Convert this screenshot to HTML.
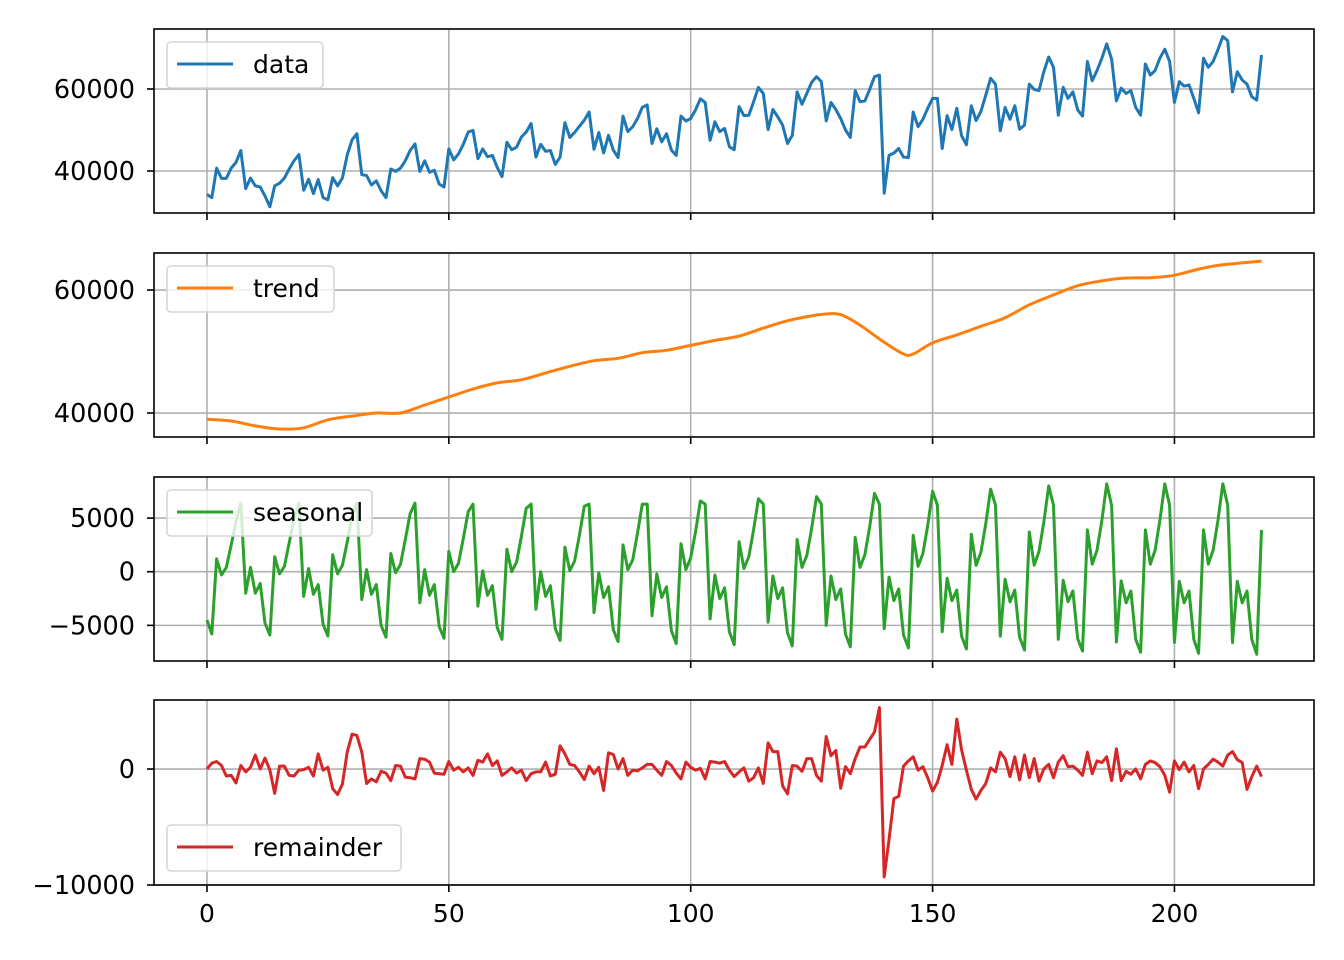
<!DOCTYPE html>
<html><head><meta charset="utf-8">
<style>
html,body{margin:0;padding:0;background:#fff;}
svg{display:block;font-family:"DejaVu Sans","Liberation Sans",sans-serif;}
</style></head>
<body>
<svg id="chart" width="1344" height="960" viewBox="0 0 1344 960" xmlns="http://www.w3.org/2000/svg"></svg>
<script>
const xTicks = [0, 50, 100, 150, 200];
const dataValues = [34300,33500,40700,38200,38200,40700,42100,45000,35700,38300,36400,36100,33900,31300,36400,37000,38300,40500,42500,44000,35300,38000,34500,37900,33500,33000,38400,36400,38300,44000,47600,49100,39100,38900,36600,37600,35200,33500,40500,39900,40700,42500,45000,46600,39900,42500,39700,40200,36800,36100,45400,42700,44200,46500,49500,49900,43000,45400,43500,43800,40900,38600,47000,45200,45800,48300,49500,51600,43400,46500,44800,45000,41600,43400,51800,48200,49400,50900,52400,54400,45300,49400,44400,48700,45100,43300,53400,49600,50800,52800,55500,56100,46700,50300,47100,49100,45100,43800,53400,52200,52800,54900,57600,56700,47500,52000,49600,50400,45900,45200,55700,53500,53600,56900,60400,58900,50100,55000,53200,51200,46700,48700,59300,56300,58900,61600,63000,61800,52200,56700,55000,52800,50000,48200,59600,56900,57100,59900,63000,63400,34600,43800,44400,45500,43400,43300,54400,50800,52600,55300,57700,57700,45500,53500,50100,55300,48600,46400,55900,52300,54500,58500,62600,61200,49800,55500,52600,55900,50200,51200,61200,59900,59600,64200,67800,65300,53600,60400,57700,59300,54900,53400,66700,62000,64500,67500,71000,67300,57100,60200,58900,59600,55500,53600,66100,63400,64500,67500,69700,66700,56700,61800,60700,61000,57700,54200,67500,65300,66700,69600,72800,71800,59300,64200,62200,61200,58100,57300,68300];
const trendX = [0,5,10,15,20,25,30,35,40,45,50,55,60,65,70,75,80,85,90,95,100,105,110,115,120,125,128,131,135,140,144,146,150,155,160,165,170,175,180,185,190,195,200,205,210,218];
const trendValues = [39000,38700,37900,37400,37600,38900,39500,40000,40000,41300,42600,43900,44900,45400,46500,47600,48500,48900,49800,50200,51000,51800,52500,53800,55000,55800,56100,56000,54300,51500,49600,49600,51400,52700,54100,55500,57600,59200,60700,61500,61950,62000,62400,63400,64100,64700];
const seasonalValues = [
-4500,-5800,1200,-300,400,2500,4700,6400,-2000,400,-2000,-1100,
-4800,-5900,1400,-200,500,2700,4900,6400,-2300,300,-2100,-1200,
-4900,-6000,1600,-200,600,2800,5200,6400,-2600,200,-2100,-1200,
-5000,-6100,1700,-100,700,3000,5400,6400,-2900,200,-2200,-1200,
-5100,-6200,1900,0,800,3100,5600,6300,-3200,100,-2200,-1300,
-5200,-6300,2100,0,900,3300,5900,6300,-3500,0,-2300,-1300,
-5300,-6400,2300,100,1000,3400,6100,6300,-3800,-100,-2400,-1400,
-5400,-6500,2500,200,1100,3600,6300,6300,-4100,-200,-2400,-1400,
-5500,-6700,2600,200,1300,3700,6600,6300,-4400,-300,-2500,-1500,
-5600,-6800,2800,300,1400,3900,6800,6300,-4700,-400,-2500,-1500,
-5700,-6900,3000,400,1500,4000,7000,6300,-5000,-400,-2600,-1600,
-5800,-7000,3200,400,1600,4200,7300,6300,-5300,-500,-2700,-1600,
-5900,-7100,3400,500,1700,4300,7500,6200,-5600,-600,-2700,-1700,
-6000,-7200,3500,600,1800,4500,7700,6200,-6000,-700,-2800,-1700,
-6100,-7300,3700,600,1900,4600,8000,6200,-6300,-800,-2800,-1800,
-6250,-7400,3900,700,2000,4800,8200,6200,-6550,-850,-2900,-1800,
-6300,-7500,3900,700,2000,4800,8200,6200,-6600,-900,-2900,-1800,
-6300,-7600,3900,700,2000,4800,8200,6200,-6600,-900,-2900,-1800,
-6300,-7700,3900];
const remainderValues = [0,500,650,300,-600,-550,-1200,300,-250,150,1200,0,950,-100,-2100,250,250,-550,-600,-100,-50,150,-600,1300,-100,150,-1700,-2200,-1300,1500,3000,2900,1450,-1250,-850,-1100,-200,-350,-1000,300,250,-700,-750,-850,900,850,600,-350,-400,-450,650,-100,150,-250,100,-550,750,600,1300,300,700,-550,-250,100,-350,-100,-1000,-400,-250,-250,600,-600,-450,2000,1300,400,300,-250,-900,250,-400,150,-1850,1400,1250,0,900,-550,-100,-150,100,400,400,-100,-550,650,300,-350,-850,600,150,-100,50,-850,650,600,500,650,-100,-650,-250,100,-1050,-750,100,-1250,2250,1500,1500,-1450,-2150,300,250,-200,900,900,-550,-1050,2800,1150,1600,-1650,200,-400,900,1900,1900,2550,3200,5300,-9300,-6100,-2550,-2350,250,700,1050,-100,200,-750,-1900,-1150,300,2100,400,4300,1650,-100,-1750,-2600,-1850,-1250,100,-250,1450,900,-650,1050,-950,1200,-750,900,-1050,0,400,-750,600,1150,200,250,-100,-550,1450,-400,700,550,1050,-1000,1750,-1000,-200,-450,0,-850,400,700,550,200,-550,-2000,700,-50,600,-250,300,-1700,0,400,850,600,250,1200,1500,800,550,-1750,-650,250,-650];
const yTicks1 = [40000, 60000];
const yTicks2 = [40000, 60000];
const yTicks3 = [-5000, 0, 5000];
const yTicks4 = [-10000, 0];

const NS = "http://www.w3.org/2000/svg";
const svg = document.getElementById('chart');
const L = 154, R = 1314;
function xs(v){ return L + (v - (-10.95)) / (228.85 - (-10.95)) * (R - L); }
function mk(tag, attrs, parent){
  const e = document.createElementNS(NS, tag);
  for (const k in attrs) e.setAttribute(k, attrs[k]);
  (parent || svg).appendChild(e);
  return e;
}
function fmt(v){ return v < 0 ? '\u2212' + Math.abs(v) : String(v); }

function smoothPath(pts){
  let d = 'M' + pts[0][0].toFixed(1) + ',' + pts[0][1].toFixed(1);
  for (let i = 0; i < pts.length - 1; i++) {
    const p0 = pts[i-1] || pts[i], p1 = pts[i], p2 = pts[i+1], p3 = pts[i+2] || p2;
    const c1x = p1[0] + (p2[0]-p0[0])/6, c1y = p1[1] + (p2[1]-p0[1])/6;
    const c2x = p2[0] - (p3[0]-p1[0])/6, c2y = p2[1] - (p3[1]-p1[1])/6;
    d += ' C' + c1x.toFixed(1) + ',' + c1y.toFixed(1) + ' ' + c2x.toFixed(1) + ',' + c2y.toFixed(1) + ' ' + p2[0].toFixed(1) + ',' + p2[1].toFixed(1);
  }
  return d;
}

const panels = [
  {name:'data', top:29, bot:213, ymin:29760, ymax:74630, ticks:yTicks1, xv:null, yv:dataValues, color:'#1f77b4', leg:{x:167,y:42,w:156}},
  {name:'trend', top:253, bot:437, ymin:36100, ymax:66020, ticks:yTicks2, xv:trendX, yv:trendValues, color:'#ff7f0e', leg:{x:167,y:266,w:167}},
  {name:'seasonal', top:477, bot:661, ymin:-8320, ymax:8830, ticks:yTicks3, xv:null, yv:seasonalValues, color:'#2ca02c', leg:{x:167,y:490,w:205}},
  {name:'remainder', top:700, bot:885, ymin:-10000, ymax:5950, ticks:yTicks4, xv:null, yv:remainderValues, color:'#d62728', leg:{x:167,y:825,w:234}}
];

panels.forEach((p, pi) => {
  const g = mk('g', {});
  
  
  const ys = v => p.bot - (v - p.ymin) / (p.ymax - p.ymin) * (p.bot - p.top);
  xTicks.forEach(t => {
    const gl = mk('line', {x1:xs(t), x2:xs(t), y1:p.top, y2:p.bot, stroke:'#b0b0b0', 'stroke-width':1.6}, g);
    
    
    const tk = mk('line', {x1:xs(t), x2:xs(t), y1:p.bot, y2:p.bot+7, stroke:'#000', 'stroke-width':1.6}, g);
    
    
    if (pi === 3) {
      const tl = mk('text', {x:xs(t), y:922, 'font-size':25, 'text-anchor':'middle', fill:'#000'}, g);
      tl.textContent = t;
      
      
    }
  });
  p.ticks.forEach(t => {
    const y = ys(t);
    const gl = mk('line', {x1:L, x2:R, y1:y, y2:y, stroke:'#b0b0b0', 'stroke-width':1.6}, g);
    
    
    const tk = mk('line', {x1:L-7, x2:L, y1:y, y2:y, stroke:'#000', 'stroke-width':1.6}, g);
    
    
    const tl = mk('text', {x:L-19, y:y+9, 'font-size':25.5, 'text-anchor':'end', fill:'#000'}, g);
    tl.textContent = fmt(t);
    
    
  });
  let line;
  if (p.xv) {
    const pts = p.yv.map((v, i) => [xs(p.xv[i]), ys(v)]);
    line = mk('path', {d:smoothPath(pts), fill:'none', stroke:p.color, 'stroke-width':3}, g);
  } else {
    const pts = p.yv.map((v, i) => xs(i).toFixed(1) + ',' + ys(v).toFixed(1)).join(' ');
    line = mk('polyline', {points:pts, fill:'none', stroke:p.color, 'stroke-width':3, 'stroke-linejoin':'round'}, g);
  }
  
  
  const fr = mk('rect', {x:L, y:p.top, width:R-L, height:p.bot-p.top, fill:'none', stroke:'#000', 'stroke-width':1.6}, g);
  
  
  const lg = mk('g', {}, g);
  
  
  mk('rect', {x:p.leg.x, y:p.leg.y, width:p.leg.w, height:46, rx:4, fill:'#fff', 'fill-opacity':0.8, stroke:'#d6d6d6', 'stroke-width':1.6}, lg);
  mk('line', {x1:p.leg.x+10, x2:p.leg.x+66, y1:p.leg.y+22, y2:p.leg.y+22, stroke:p.color, 'stroke-width':3}, lg);
  const lt = mk('text', {x:p.leg.x+86, y:p.leg.y+31, 'font-size':25, fill:'#000'}, lg);
  lt.textContent = p.name;
  
  
});
</script>
</body></html>
